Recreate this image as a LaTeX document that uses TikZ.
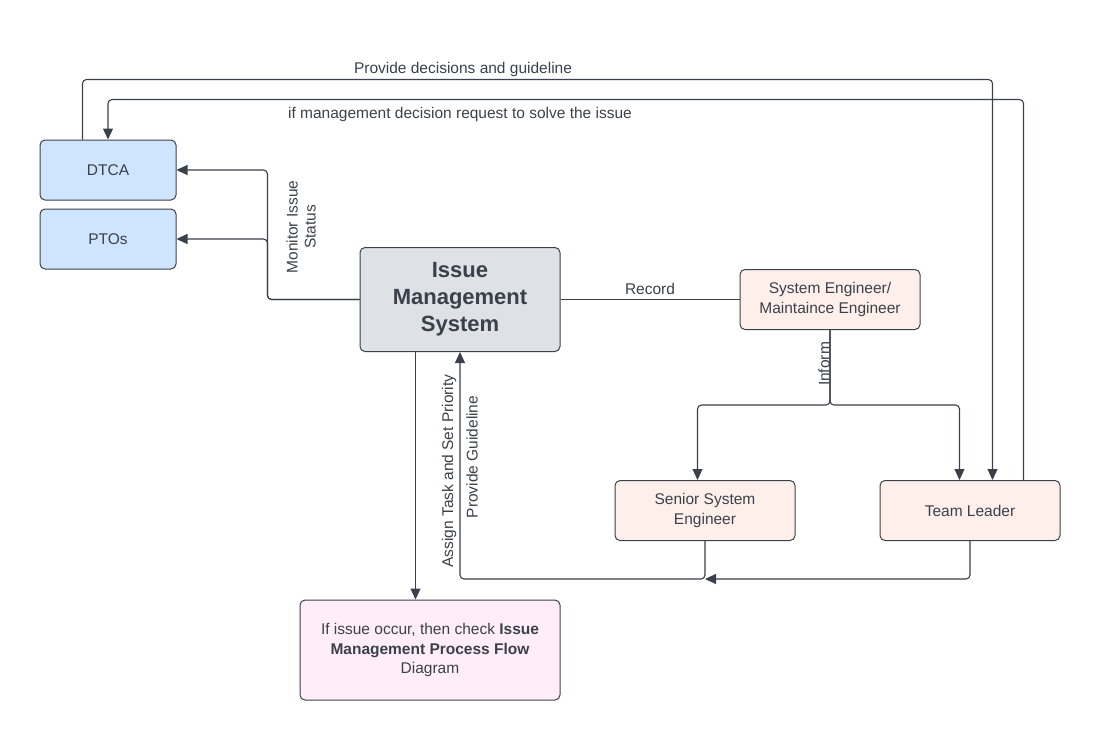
\documentclass[tikz,border=0pt]{standalone}
\usepackage{fontspec}
\setmainfont{Liberation Sans}
\usetikzlibrary{arrows.meta,calc}
\definecolor{linegray}{HTML}{3A414A}
\definecolor{bluebox}{HTML}{CFE4FF}
\definecolor{graybox}{HTML}{DEE1E6}
\definecolor{pinkbox}{HTML}{FFEFEB}
\definecolor{notebox}{HTML}{FFEEFA}

\begin{document}
\begin{tikzpicture}[x=1pt, y=-1pt,
    box/.style={draw=linegray, line width=1pt, rounded corners=5pt, text=linegray,
      align=center, inner sep=2pt, font=\fontsize{15.5}{19.5}\selectfont},
    link/.style={draw=linegray, line width=1.1pt, rounded corners=4pt,
      -{Triangle[width=10pt,length=11pt]}},
    plain/.style={draw=linegray, line width=1.1pt},
    lbl/.style={text=linegray, inner sep=1pt, align=center, font=\fontsize{15.5}{18}\selectfont}]
    \useasboundingbox (0,0) rectangle (1100,740); % page size
    % boxes
    \node[box, fill=bluebox, minimum width=136, minimum height=60] (dtca) at (108,170) {DTCA};
    \node[box, fill=bluebox, minimum width=136, minimum height=60] (ptos) at (108,239) {PTOs};
    \node[box, fill=graybox, minimum width=200, minimum height=104,
      font=\fontsize{22}{26.8}\selectfont\bfseries] (ims) at (460,299.5) {Issue\\Management\\System};
    \node[box, fill=pinkbox, minimum width=180, minimum height=60] (syseng) at (830,299.5) {System Engineer/\\Maintaince Engineer};
    \node[box, fill=pinkbox, minimum width=180, minimum height=60] (senior) at (705,510.5) {Senior System\\Engineer};
    \node[box, fill=pinkbox, minimum width=180, minimum height=60] (team) at (970,510.5) {Team Leader};
    \node[box, fill=notebox, minimum width=260, minimum height=100] (note) at (430,650)
      {If issue occur, then check \textbf{Issue}\\\textbf{Management Process Flow}\\Diagram};
    % connectors
    \draw[link] ($(dtca.north west)+(43,0)$) -- ++(0,-60) -| ($(team.north west)+(113,0)$);
    \draw[link] ($(team.north west)+(144,0)$) -- ++(0,-380.5) -| (dtca.north);
    \draw[link] (ims.west) -- ++(-92,0) |- (dtca.east);
    \draw[link] (ims.west) -- ++(-92,0) |- (ptos.east);
    \draw[plain] (ims.east) -- (syseng.west);
    \draw[link] (syseng.south) -- ++(0,75) -| ($(senior.north west)+(83,0)$);
    \draw[link] (syseng.south) -- ++(0,75) -| ($(team.north west)+(80,0)$);
    \draw[link] ($(ims.south west)+(56,0)$) -- ($(note.north west)+(116,0)$);
    \draw[link] (senior.south) -- ++(0,38) -| (ims.south);
    \draw[link] (team.south) -- ++(0,38) -- ($(senior.south)+(0,38)$);
    % labels
    \node[lbl] (decide) at (463,69) {Provide decisions and guideline};
    \node[lbl] (request) at (460,114) {if management decision request to solve the issue};
    \node[lbl, rotate=90] (monitor) at (301,227) {Monitor Issue\\Status};
    \node[lbl] (record) at (650,289) {Record};
    \node[lbl, rotate=90] (inform) at (824,364) {Inform};
    \node[lbl, rotate=90] (assign) at (449,471) {Assign Task and Set Priority};
    \node[lbl, rotate=90] (guide) at (472,457) {Provide Guideline};
\end{tikzpicture}
\end{document}
